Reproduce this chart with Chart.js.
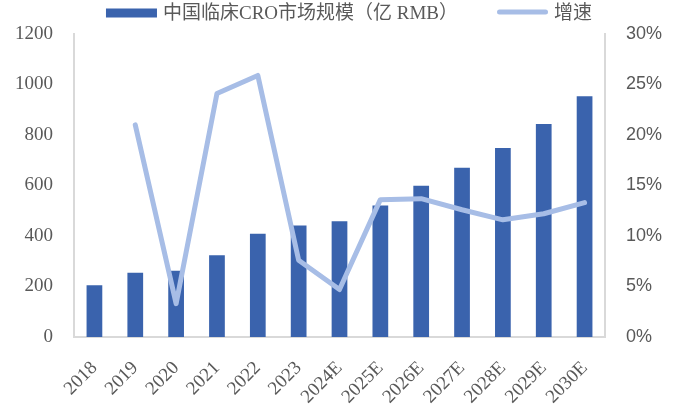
<!DOCTYPE html>
<html>
<head>
<meta charset="utf-8">
<script src="https://cdn.jsdelivr.net/npm/chart.js@4"></script>
<style>
  html, body { margin: 0; padding: 0; background: #ffffff; }
  #wrap { width: 680px; height: 405px; }
</style>
</head>
<body>
<div id="wrap"><canvas id="chart" width="680" height="405"></canvas></div>
<script>
// Years on the category axis
const years = ['2018', '2019', '2020', '2021', '2022', '2023', '2024E', '2025E', '2026E', '2027E', '2028E', '2029E', '2030E'];
// China clinical CRO market size, 100 million RMB
const marketSize = [205, 254, 262, 324, 409, 442, 458, 521, 599, 670, 749, 844, 953];
// Year-on-year growth rate (fraction)
const growthRate = [null, 0.210, 0.033, 0.241, 0.259, 0.076, 0.047, 0.136, 0.137, 0.126, 0.116, 0.122, 0.133];

const seriesNames = ['中国临床CRO市场规模（亿 RMB）', '增速'];

const BAR_COLOR = '#3A63AD';
const LINE_COLOR = '#A7BDE6';
const TEXT_COLOR = '#595959';
const AXIS_COLOR = '#D9D9D9';

// Legend row drawn across the top of the canvas
const topLegend = {
  id: 'topLegend',
  afterDraw(chart) {
    const ctx = chart.ctx;
    const sets = chart.data.datasets;
    ctx.save();
    ctx.font = '19px "Liberation Serif", "Noto Sans CJK SC"';
    ctx.textBaseline = 'middle';
    const swatch = 51, gapText = 6, gapItem = 39;
    const widths = sets.map(d => swatch + gapText + ctx.measureText(d.label).width);
    const total = widths.reduce((a, b) => a + b, 0) + gapItem * (sets.length - 1);
    let x = 349 - total / 2;
    const y = 13;
    sets.forEach((d, i) => {
      if (d.type === 'bar') {
        ctx.fillStyle = d.backgroundColor;
        ctx.fillRect(x, y - 4.5, swatch, 9);
      } else {
        ctx.strokeStyle = d.borderColor;
        ctx.lineWidth = 5;
        ctx.lineCap = 'round';
        ctx.beginPath();
        ctx.moveTo(x + 2.5, y - 1);
        ctx.lineTo(x + swatch - 2.5, y - 1);
        ctx.stroke();
      }
      ctx.fillStyle = TEXT_COLOR;
      ctx.fillText(d.label, x + swatch + gapText, y + 1);
      x += widths[i] + gapItem;
    });
    ctx.restore();
  }
};

new Chart(document.getElementById('chart'), {
  data: {
    labels: years,
    datasets: [
      {
        type: 'bar',
        label: seriesNames[0],
        data: marketSize,
        backgroundColor: BAR_COLOR,
        borderWidth: 0,
        yAxisID: 'y',
        order: 1,
        categoryPercentage: 1,
        barPercentage: 0.385
      },
      {
        type: 'line',
        label: seriesNames[1],
        data: growthRate,
        borderColor: LINE_COLOR,
        backgroundColor: LINE_COLOR,
        borderWidth: 5,
        borderJoinStyle: 'round',
        borderCapStyle: 'round',
        pointRadius: 0,
        tension: 0,
        yAxisID: 'y1',
        order: 0
      }
    ]
  },
  options: {
    responsive: false,
    animation: false,
    devicePixelRatio: 1,
    layout: { padding: { top: 34, left: 0, right: 0, bottom: 0 } },
    plugins: {
      legend: { display: false },
      tooltip: { enabled: false }
    },
    scales: {
      x: {
        grid: { display: false, drawTicks: false },
        border: { display: true, color: AXIS_COLOR, width: 2 },
        ticks: {
          color: TEXT_COLOR,
          font: { family: '"Liberation Serif"', size: 19 },
          minRotation: 45,
          maxRotation: 45,
          autoSkip: false,
          padding: 20
        },
        afterFit(scale) { scale.height = 68; }
      },
      y: {
        position: 'left',
        min: 0,
        max: 1200,
        grid: { display: false, drawTicks: false },
        border: { display: true, color: AXIS_COLOR, width: 2 },
        ticks: {
          stepSize: 200,
          color: TEXT_COLOR,
          font: { family: '"Liberation Serif"', size: 19 },
          padding: 21,
          callback: v => String(v)
        },
        afterFit(scale) { scale.width = 74; }
      },
      y1: {
        position: 'right',
        min: 0,
        max: 0.3,
        grid: { display: false, drawTicks: false },
        border: { display: true, color: AXIS_COLOR, width: 2 },
        ticks: {
          stepSize: 0.05,
          color: TEXT_COLOR,
          font: { family: '"Liberation Sans"', size: 18 },
          padding: 21,
          callback: v => Math.round(v * 100) + '%'
        },
        afterFit(scale) { scale.width = 75; }
      }
    }
  },
  plugins: [topLegend]
});
</script>
</body>
</html>
